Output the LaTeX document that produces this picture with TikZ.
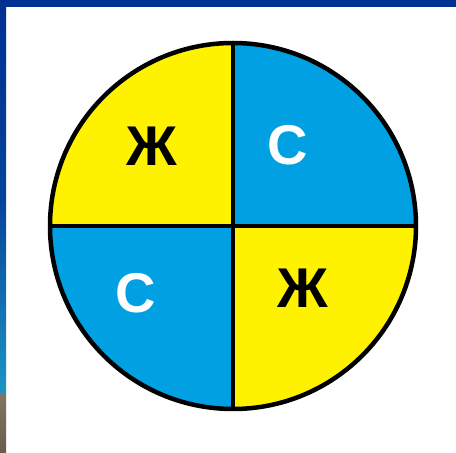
\documentclass[tikz,border=0pt]{standalone}
\usepackage{fontspec}
\setmainfont{Liberation Sans}
\usepackage{tikz}
\usetikzlibrary{positioning, calc}
\definecolor{frameblue}{RGB}{0, 48, 145}
\definecolor{framelight}{RGB}{28, 150, 196}
\definecolor{framegray}{RGB}{128, 116, 100}
\definecolor{framegraydark}{RGB}{104, 92, 78}
\definecolor{sunyellow}{RGB}{255, 242, 0}
\definecolor{skyblue}{RGB}{0, 160, 227}

\begin{document}
\begin{tikzpicture}[x=1pt, y=1pt,
        letter/.style={font=\fontsize{56}{56}\selectfont\bfseries, inner sep=0pt},
        divider/.style={line width=4.5pt, draw=black}]
        \useasboundingbox (0,0) rectangle (456,453);
        % slide frame
        \fill[white] (0,0) rectangle (456,453);
        \fill[frameblue] (0,446) rectangle (456,453);
        \shade[top color=frameblue, bottom color=framelight, middle color=frameblue!80!framelight] (0,58) rectangle (6,446);
        \shade[top color=framegray, bottom color=framegraydark] (0,0) rectangle (6,58);
        % quarters of the disc
        \coordinate (c) at (233,227);
        \fill[sunyellow] (c) -- ++(-183,0) arc (180:90:183) -- cycle;
        \fill[skyblue] (c) -- ++(0,183) arc (90:0:183) -- cycle;
        \fill[sunyellow] (c) -- ++(183,0) arc (0:-90:183) -- cycle;
        \fill[skyblue] (c) -- ++(0,-183) arc (270:180:183) -- cycle;
        \coordinate (w) at ($(c)+(-183,0)$);
        \coordinate (e) at ($(c)+(183,0)$);
        \coordinate (n) at ($(c)+(0,183)$);
        \coordinate (s) at ($(c)+(0,-183)$);
        \draw[divider] (w) -- (e);
        \draw[divider] (n) -- (s);
        \draw[divider] (c) circle (183);
        % letters
        \node[letter, text=black] (zh1) at (152,307) {Ж};
        \node[letter, text=white] (es1) at (288,308) {С};
        \node[letter, text=white] (es2) at (136,160) {С};
        \node[letter, text=black] (zh2) at (303,165) {Ж};
    \end{tikzpicture}
\end{document}
